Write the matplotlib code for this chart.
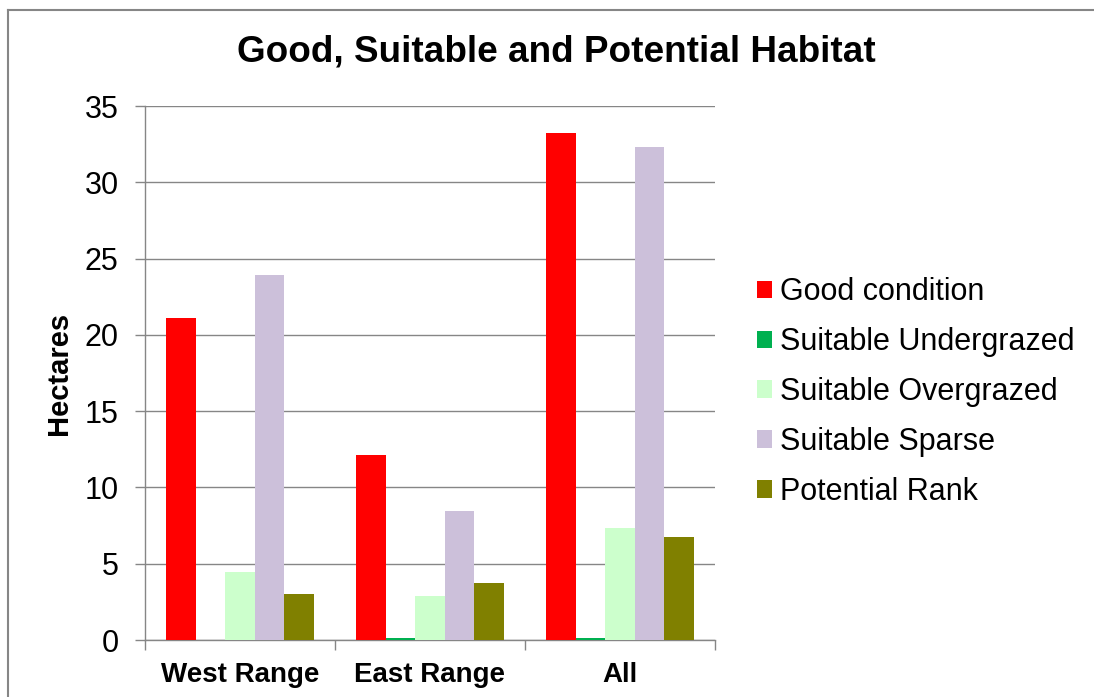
import numpy as np
import matplotlib.pyplot as plt
from matplotlib.lines import Line2D

plt.rcParams['font.family'] = ['Liberation Sans', 'DejaVu Sans']

# Chart data
groups = ['West Range', 'East Range', 'All']
series = ['Good condition', 'Suitable Undergrazed', 'Suitable Overgrazed',
          'Suitable Sparse', 'Potential Rank']
good = [21.1, 12.1, 33.2]
undergrazed = [0.0, 0.1, 0.1]
overgrazed = [4.45, 2.9, 7.35]
sparse = [23.9, 8.45, 32.3]
rank = [3.0, 3.75, 6.75]
colors = ['#FF0000', '#00B050', '#CCFFCC', '#CCC0DA', '#808000']

def main():
    fig = plt.figure(figsize=(10.94, 6.97), dpi=100)
    ax = fig.add_axes([145/1094, 1 - 640/697, 570/1094, 534/697])

    values = [good, undergrazed, overgrazed, sparse, rank]
    x = np.arange(len(groups))
    w = 1 / 6.45
    for i, (name, vals) in enumerate(zip(series, values)):
        offs = (i - 2) * w
        ax.bar(x + offs, vals, width=w, color=colors[i], label=name, zorder=3)

    ax.set_xlim(-0.5, 2.5)
    ax.set_ylim(0, 35)
    ax.set_yticks(range(0, 36, 5))
    ax.set_xticks(x)
    ax.set_xticklabels(groups, fontsize=20, fontweight='bold')
    ax.set_xticks([-0.5, 0.5, 1.5, 2.5], minor=True)
    ax.tick_params(axis='x', which='major', length=0, pad=16)
    ax.tick_params(axis='x', which='minor', length=7, color='#868686', width=1)
    ax.tick_params(axis='y', labelsize=22, length=7, color='#868686', width=1, pad=12)
    ax.grid(axis='y', color='#868686', linewidth=1, zorder=0)
    for s in ('top', 'right'):
        ax.spines[s].set_visible(False)
    for s in ('left', 'bottom'):
        ax.spines[s].set_color('#868686')
        ax.spines[s].set_linewidth(1)

    ax.set_ylabel('Hectares', fontsize=21, fontweight='bold', labelpad=8)
    fig.text(556/1094, 1 - 52/697, 'Good, Suitable and Potential Habitat',
             fontsize=26.6, fontweight='bold', ha='center', va='center')

    ax.legend(loc='center left', bbox_to_anchor=(757/1094, 1 - 392/697),
              bbox_transform=fig.transFigure, frameon=False, fontsize=22,
              borderpad=0, borderaxespad=0,
              handlelength=0.5, handleheight=0.5, handletextpad=0.26,
              labelspacing=0.65)

    # outer chart border
    fig.add_artist(Line2D([8/1094, 8/1094], [0, 1 - 10/697],
                          transform=fig.transFigure, color='#868686', lw=1.5))
    fig.add_artist(Line2D([8/1094, 1], [1 - 10/697, 1 - 10/697],
                          transform=fig.transFigure, color='#868686', lw=1.5))

    fig.savefig('out.png', dpi=100)

if __name__ == '__main__':
    main()
